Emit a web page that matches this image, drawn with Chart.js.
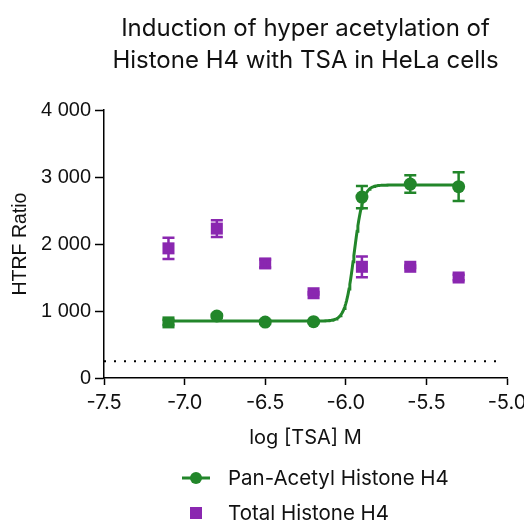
<!DOCTYPE html>
<html>
<head>
<meta charset="utf-8">
<script src="https://cdn.jsdelivr.net/npm/chart.js@4"></script>
<style>
  html, body { margin: 0; padding: 0; background: #fff; }
  #wrap { width: 524px; height: 521px; }
</style>
</head>
<body>
<div id="wrap"><canvas id="grafico" width="524" height="521"></canvas></div>
<script>
// dosis en log [TSA] M
var dosis = [-7.1, -6.8, -6.5, -6.2, -5.9, -5.6, -5.3];

// Pan-Acetyl Histone H4 (media y error)
var panAcetil = [830, 925, 835, 840, 2700, 2895, 2855];
var panAcetilErr = [40, 30, 30, 20, 165, 130, 215];

// Total Histone H4 (media y error)
var totalH4 = [1935, 2230, 1710, 1265, 1660, 1660, 1500];
var totalH4Err = [160, 125, 60, 20, 155, 20, 40];

// ajuste sigmoidal de Pan-Acetyl
var ajusteAbajo = 850;
var ajusteArriba = 2880;
var logEC50 = -5.948;
var pendienteHill = 16;

// linea de fondo (punteada)
var fondo = 250;

var ticksX = [-7.5, -7.0, -6.5, -6.0, -5.5, -5.0];
var ticksY = [0, 1000, 2000, 3000, 4000];

var verde = '#22862a';
var morado = '#8a27b0';

// curva del ajuste
var curva = [];
for (var x = dosis[0]; x <= dosis[dosis.length - 1] + 0.0001; x += 0.005) {
  var y = ajusteAbajo + (ajusteArriba - ajusteAbajo) / (1 + Math.pow(10, (logEC50 - x) * pendienteHill));
  curva.push({ x: x, y: y });
}

function puntos(xs, ys) {
  return xs.map(function (v, i) { return { x: v, y: ys[i] }; });
}

// barras de error
var barrasError = {
  id: 'barrasError',
  afterDatasetsDraw: function (chart) {
    var ctx = chart.ctx;
    var sx = chart.scales.x, sy = chart.scales.y;
    chart.data.datasets.forEach(function (ds) {
      if (!ds.errores) return;
      ctx.save();
      ctx.strokeStyle = ds.borderColor;
      ctx.lineWidth = 2.5;
      ds.data.forEach(function (p, i) {
        var e = ds.errores[i];
        var px = sx.getPixelForValue(p.x);
        var y1 = sy.getPixelForValue(p.y + e);
        var y2 = sy.getPixelForValue(p.y - e);
        ctx.beginPath();
        ctx.moveTo(px, y1); ctx.lineTo(px, y2);
        ctx.moveTo(px - 6, y1); ctx.lineTo(px + 6, y1);
        ctx.moveTo(px - 6, y2); ctx.lineTo(px + 6, y2);
        ctx.stroke();
      });
      ctx.restore();
    });
  }
};

// leyenda en columna debajo del eje X
var leyenda = {
  id: 'leyenda',
  afterDraw: function (chart) {
    var ctx = chart.ctx;
    ctx.save();
    ctx.font = '20.5px Inter';
    ctx.textBaseline = 'middle';

    // Pan-Acetyl: linea con circulo
    ctx.strokeStyle = verde;
    ctx.lineWidth = 3;
    ctx.beginPath(); ctx.moveTo(182, 478); ctx.lineTo(210, 478); ctx.stroke();
    ctx.fillStyle = verde;
    ctx.beginPath(); ctx.arc(196, 478, 6, 0, Math.PI * 2); ctx.fill();
    ctx.fillStyle = '#111';
    ctx.fillText('Pan-Acetyl Histone H4', 228, 479);

    // Total: cuadrado
    ctx.fillStyle = morado;
    ctx.fillRect(190, 507, 12, 12);
    ctx.fillStyle = '#111';
    ctx.fillText('Total Histone H4', 228, 514);
    ctx.restore();
  }
};

var ctx = document.getElementById('grafico').getContext('2d');
new Chart(ctx, {
  type: 'scatter',
  data: {
    datasets: [
      {
        label: 'Pan-Acetyl Histone H4',
        data: puntos(dosis, panAcetil),
        errores: panAcetilErr,
        borderColor: verde,
        backgroundColor: verde,
        pointStyle: ['rect', 'circle', 'circle', 'circle', 'circle', 'circle', 'circle'],
        pointRadius: [8.5, 6.5, 6.5, 6.5, 6.5, 6.5, 6.5],
        pointBorderWidth: 0,
        order: 1
      },
      {
        label: 'Total Histone H4',
        data: puntos(dosis, totalH4),
        errores: totalH4Err,
        borderColor: morado,
        backgroundColor: morado,
        pointStyle: 'rect',
        pointRadius: 8.5,
        pointBorderWidth: 0,
        order: 2
      },
      {
        label: 'ajuste',
        type: 'line',
        data: curva,
        borderColor: verde,
        borderWidth: 3,
        pointRadius: 0,
        fill: false,
        order: 3
      },
      {
        label: 'fondo',
        type: 'line',
        data: [{ x: ticksX[0], y: fondo }, { x: -5.05, y: fondo }],
        borderColor: '#000',
        borderWidth: 2,
        borderDash: [2, 8],
        pointRadius: 0,
        fill: false,
        order: 4
      }
    ]
  },
  options: {
    responsive: false,
    animation: false,
    layout: { padding: { top: 0, right: 17, bottom: 0, left: 0 } },
    plugins: {
      legend: { display: false },
      tooltip: { enabled: false },
      title: {
        display: true,
        fullSize: false,
        text: ['Induction of hyper acetylation of', 'Histone H4 with TSA in HeLa cells'],
        color: '#111',
        font: { family: 'Inter', size: 24, weight: 'normal', lineHeight: 32 / 24 },
        padding: { top: 13, bottom: 33 }
      }
    },
    scales: {
      x: {
        type: 'linear',
        min: ticksX[0],
        max: ticksX[ticksX.length - 1],
        afterBuildTicks: function (s) { s.ticks = ticksX.map(function (v) { return { value: v }; }); },
        afterFit: function (s) { s.height = 143; s.paddingLeft = 0; s.paddingRight = 0; },
        grid: { drawOnChartArea: false, drawTicks: true, tickLength: 7, tickWidth: 1.5, tickColor: '#000' },
        border: { color: '#000', width: 1.5 },
        ticks: {
          color: '#111',
          padding: 6,
          font: { family: 'Inter', size: 20 },
          callback: function (v) { return v.toFixed(1); }
        },
        title: {
          display: true,
          text: 'log [TSA] M',
          color: '#111',
          font: { family: 'Inter', size: 20 },
          padding: { top: 0, bottom: 71 }
        }
      },
      y: {
        min: ticksY[0],
        max: ticksY[ticksY.length - 1],
        afterBuildTicks: function (s) { s.ticks = ticksY.map(function (v) { return { value: v }; }); },
        afterFit: function (s) { s.width = 104; s.paddingTop = 0; s.paddingBottom = 0; },
        grid: { drawOnChartArea: false, drawTicks: true, tickLength: 9, tickWidth: 1.5, tickColor: '#000' },
        border: { color: '#000', width: 1.5 },
        ticks: {
          color: '#111',
          padding: 4,
          font: { family: 'Liberation Sans', size: 20 },
          callback: function (v) { return String(v).replace(/\B(?=(\d{3})+(?!\d))/g, ' '); }
        },
        title: {
          display: true,
          text: 'HTRF Ratio',
          color: '#111',
          font: { family: 'Liberation Sans', size: 19.5 },
          padding: { top: 9, bottom: 4 }
        }
      }
    }
  },
  plugins: [barrasError, leyenda]
});
</script>
</body>
</html>
